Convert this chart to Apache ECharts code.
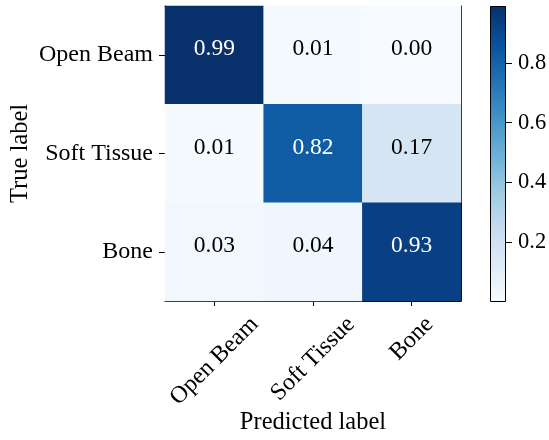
<!DOCTYPE html>
<html><head><meta charset="utf-8">
<script src="https://cdn.jsdelivr.net/npm/echarts@6/dist/echarts.min.js"></script>
<style>html,body{margin:0;padding:0;background:#fff}#c{width:549px;height:440px}</style>
</head><body><div id="c"></div>
<script>
const categories = ['Open Beam', 'Soft Tissue', 'Bone'];
const rowOpenBeam = [0.99, 0.01, 0.002];
const rowSoftTissue = [0.01, 0.82, 0.17];
const rowBone = [0.03, 0.04, 0.93];
const colorbarTicks = [0.2, 0.4, 0.6, 0.8];
const blues = ['#f7fbff','#deebf7','#c6dbef','#9ecae1','#6baed6','#4292c6','#2171b5','#08519c','#08306b'];

const rows = [rowOpenBeam, rowSoftTissue, rowBone];
let vmin = Infinity, vmax = -Infinity;
rows.forEach(r => r.forEach(v => { vmin = Math.min(vmin, v); vmax = Math.max(vmax, v); }));
const thresh = vmax / 2;
const data = [];
rows.forEach((r, yi) => r.forEach((v, xi) => {
  data.push({ value: [xi, yi, v], label: { color: v > thresh ? '#fff' : '#000' } });
}));
const font = 'Liberation Serif';
const fsTick = 24, fsName = 24.5, fsCell = 23.5, fsBar = 22.5;

// matplotlib-style rotated labels: rotated box centred on tick, top aligned
const ctx = document.createElement('canvas').getContext('2d');
ctx.font = fsTick + 'px "' + font + '"';
const rich = {};
categories.forEach((c, i) => {
  const w = ctx.measureText(c).width;
  const d = (w + 19) / (2 * Math.SQRT2);
  const p = Math.SQRT2 * d;
  rich['l' + i] = { fontSize: fsTick, fontFamily: font, color: '#000', padding: [p, p, 0, 0] };
});

const chart = echarts.init(document.getElementById('c'), null, { renderer: 'canvas' });
chart.setOption({
  animation: false,
  textStyle: { fontFamily: font },
  grid: [
    { left: 165, top: 6, width: 296, height: 295, containLabel: false, outerBoundsMode: 'none' },
    { left: 490, top: 6, width: 16, height: 296, containLabel: false, outerBoundsMode: 'none' }
  ],
  xAxis: [
    { type: 'category', data: categories, gridIndex: 0,
      axisLine: { show: true, lineStyle: { color: '#000', width: 1 } },
      axisTick: { show: true, alignWithLabel: true, length: 5, lineStyle: { color: '#000' } },
      axisLabel: { rotate: 45, interval: 0, align: 'center', verticalAlign: 'middle',
        color: '#000', fontSize: fsTick, fontFamily: font, margin: 13,
        formatter: (v, i) => '{l' + i + '|' + v + '}', rich: rich },
      splitLine: { show: false },
      name: 'Predicted label', nameLocation: 'middle', nameGap: 109, nameMoveOverlap: false,
      nameTextStyle: { color: '#000', fontSize: fsName, fontFamily: font } },
    { type: 'category', data: categories, gridIndex: 0, position: 'top',
      axisLine: { show: true, lineStyle: { color: '#000', width: 1 } },
      axisTick: { show: false }, axisLabel: { show: false } },
    { type: 'category', data: ['c'], gridIndex: 1, show: false }
  ],
  yAxis: [
    { type: 'category', data: categories, gridIndex: 0, inverse: true,
      axisLine: { show: true, lineStyle: { color: '#000', width: 1 } },
      axisTick: { show: true, alignWithLabel: true, length: 6, lineStyle: { color: '#000' } },
      axisLabel: { color: '#000', fontSize: fsTick, fontFamily: font, margin: 12 },
      splitLine: { show: false },
      name: 'True label', nameLocation: 'middle', nameGap: 132, nameRotate: 90, nameMoveOverlap: false,
      nameTextStyle: { color: '#000', fontSize: fsName, fontFamily: font } },
    { type: 'category', data: categories, gridIndex: 0, inverse: true, position: 'right',
      axisLine: { show: true, lineStyle: { color: '#000', width: 1 } },
      axisTick: { show: false }, axisLabel: { show: false } },
    { type: 'value', gridIndex: 1, position: 'right', min: 0, max: vmax,
      axisLine: { show: false },
      axisTick: { show: true, length: 6, customValues: colorbarTicks, lineStyle: { color: '#000' } },
      axisLabel: { color: '#000', fontSize: fsBar, fontFamily: font, margin: 12,
        customValues: colorbarTicks, formatter: v => v.toFixed(1) },
      splitLine: { show: false } }
  ],
  visualMap: {
    show: false, type: 'continuous', min: vmin, max: vmax, seriesIndex: 0,
    inRange: { color: blues }
  },
  series: [
    { type: 'heatmap', xAxisIndex: 0, yAxisIndex: 0, data: data,
      label: { show: true, fontSize: fsCell, fontFamily: font, offset: [0, -6],
        formatter: p => p.value[2].toFixed(2) },
      emphasis: { disabled: true } },
    { type: 'bar', xAxisIndex: 2, yAxisIndex: 2, data: [vmax], barWidth: '100%',
      itemStyle: {
        borderColor: '#000', borderWidth: 1,
        color: new echarts.graphic.LinearGradient(0, 1, 0, 0,
          blues.map((c, i) => ({ offset: i / (blues.length - 1), color: c })))
      } }
  ]
});
</script></body></html>
